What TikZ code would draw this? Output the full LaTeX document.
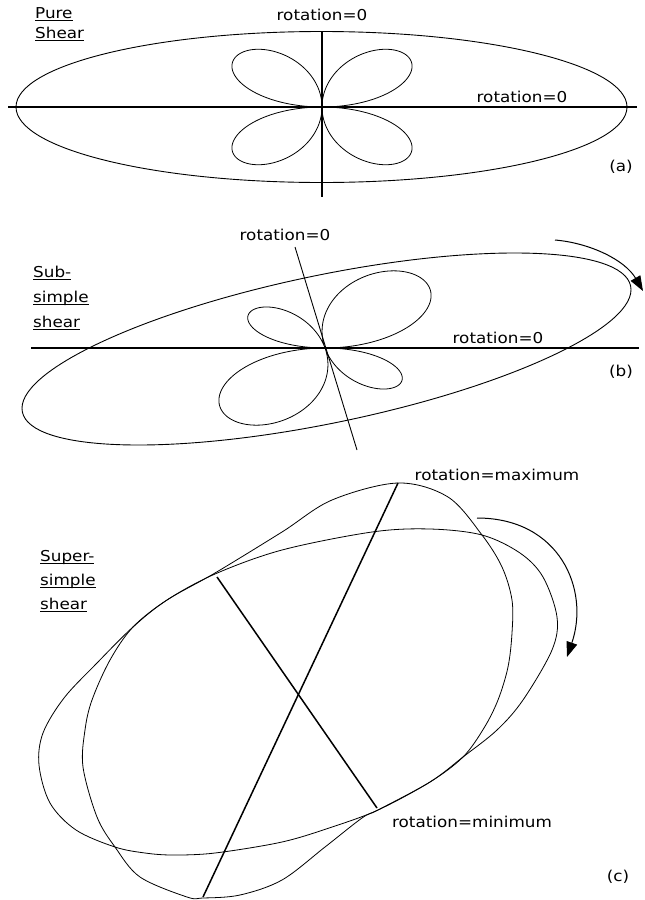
\documentclass[tikz,border=0pt]{standalone}
\usepackage{fontspec}
\newfontfamily\lblfont{DejaVu Sans}[FakeStretch=1.12]
\usetikzlibrary{arrows.meta}
\newcommand\ulbox[1]{\setbox0\hbox{#1}\leavevmode\rlap{\rule[-2.8pt]{\wd0}{0.9pt}}\box0}
\begin{document}
\begin{tikzpicture}[x=1pt,y=-1pt,
  lbl/.style={font={\lblfont\fontsize{15}{18}\selectfont}, inner sep=0pt},
  ttl/.style={lbl, anchor=west},
  curve/.style={line width=0.8pt, line join=round},
  axisline/.style={line width=1.1pt},
  bold/.style={line width=1.5pt},
  turn/.style={line width=1pt, -{Triangle[length=15pt,width=11pt]}}]
\useasboundingbox (0,0) rectangle (645,900);
\fill[white] (0,0) rectangle (645,900);

% ---------------- panel (a)
\node[ttl] (a1) at (35,14) {\ulbox{Pure}};
\node[ttl] (a2) at (35,34) {\ulbox{Shear}};
\node[lbl] (atop) at (322,15) {rotation=0};
\node[lbl] (aright) at (522,97) {rotation=0};
\node[lbl] (alab) at (621,167) {(a)};
\coordinate (aH1) at (8,107);
\coordinate (aH2) at (637,107);
\coordinate (aV1) at (322,31);
\coordinate (aV2) at (322,197);
\draw[curve, line width=0.9pt] (321.5,107) ellipse [x radius=305.5, y radius=75.5];
\draw[axisline] (aH1) -- (aH2);
\draw[axisline] (aV1) -- (aV2);
\draw[curve] plot[domain=0:360,samples=721] ({322+117*abs(sin(2*\x))*cos(\x)},{107-75*abs(sin(2*\x))*sin(\x)});

% ---------------- panel (b)
\node[ttl] (b1) at (33,273) {\ulbox{Sub-}};
\node[ttl] (b2) at (33,298) {\ulbox{simple}};
\node[ttl] (b3) at (33,323) {\ulbox{shear}};
\node[lbl] (btop) at (285,235) {rotation=0};
\node[lbl] (bright) at (498,338) {rotation=0};
\node[lbl] (blab) at (621,372) {(b)};
\coordinate (bH1) at (31,348);
\coordinate (bH2) at (639,348);
\coordinate (bT1) at (295,247);
\coordinate (bT2) at (357,450);
\draw[curve, line width=0.9pt, rotate around={11.7:(326.5,349)}] (326.5,349) ellipse [x radius=310.6, y radius=74];
\draw[axisline] (bH1) -- (bH2);
\draw[line width=0.9pt] (bT1) -- (bT2);
\draw[curve] plot[domain=0:360,samples=721] ({325+118*abs(sin(2*\x)+0.45*sin(\x)*sin(\x))*cos(\x)},{348-74*abs(sin(2*\x)+0.45*sin(\x)*sin(\x))*sin(\x)});
\coordinate (bA1) at (555,240);
\coordinate (bA2) at (643,291);
\draw[turn] (bA1) .. controls (590,243) and (625,260) .. (bA2);

% ---------------- panel (c)
\node[ttl] (c1) at (40,557) {\ulbox{Super-}};
\node[ttl] (c2) at (40,581) {\ulbox{simple}};
\node[ttl] (c3) at (40,605) {\ulbox{shear}};
\node[lbl] (cmax) at (497,475) {rotation=maximum};
\node[lbl] (cmin) at (472,822) {rotation=minimum};
\node[lbl] (clab) at (618,877) {(c)};
% strain ellipse
\draw[curve] plot[smooth cycle, tension=0.55] coordinates {
 (430,529) (482,535) (520,553) (543,577) (557,617) (552,650) (523,700)
 (497,730) (463,757) (430,782) (378,810) (332,827) (282,842) (215,853)
 (173,855) (145,853) (115,847) (76,830) (50,803) (39,765) (43,733)
 (64,698) (97,663) (133,627) (167,600) (215,574) (282,550) (372,532)};
% rotation plot
\draw[curve] plot[smooth cycle, tension=0.55] coordinates {
 (398,483) (448,497) (482,535) (502,567) (512,600) (512,633) (508,667)
 (498,700) (484,728) (463,757) (430,782) (378,810) (362,818) (325,847)
 (282,880) (240,895) (203,898) (187,897) (140,877) (115,847) (97,817)
 (83,767) (85,730) (92,700) (110,660) (133,627) (167,600) (215,573)
 (282,532) (332,500)};
\coordinate (cM1) at (398,483);
\coordinate (cM2) at (203,897);
\coordinate (cN1) at (217,577);
\coordinate (cN2) at (377,808);
\draw[bold] (cM1) -- (cM2);
\draw[bold] (cN1) -- (cN2);
\coordinate (cA1) at (477,518);
\coordinate (cA2) at (567,657);
\draw[turn] (cA1) .. controls (560,518) and (590,590) .. (cA2);
\end{tikzpicture}
\end{document}
